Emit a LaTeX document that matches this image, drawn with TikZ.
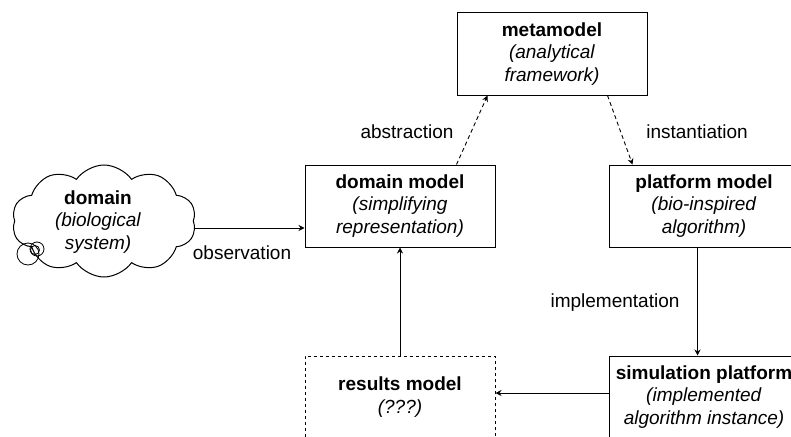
\documentclass[tikz,border=0pt]{standalone}
\usepackage{fontspec}
\setmainfont{Liberation Sans}
\usetikzlibrary{shapes.symbols,arrows.meta,calc}
\begin{document}
\begin{tikzpicture}[x=1pt,y=-1pt,
  every node/.style={font=\fontsize{19}{22.5}\selectfont},
  box/.style={draw,line width=1pt,minimum width=190pt,minimum height=82pt,inner sep=0pt,align=center},
  dbox/.style={box,dash pattern=on 3pt off 3pt},
  arr/.style={line width=0.9pt,-{Stealth[length=6pt,width=6pt,inset=2pt]}},
  darr/.style={arr,dash pattern=on 4pt off 3pt},
  lbl/.style={inner sep=0pt,anchor=center}]
\useasboundingbox (0,0) rectangle (791,436);
\begin{scope}
\clip (0,0) rectangle (791,436);
\node[box] (meta) at (552,54) {\textbf{metamodel}\\\textit{(analytical}\\\textit{framework)}};
\node[box] (dm) at (400,206) {\textbf{domain model}\\\textit{(simplifying}\\\textit{representation)}};
\node[box] (pm) at (704,206) {\textbf{platform model}\\\textit{(bio-inspired}\\\textit{algorithm)}};
\node[box] (sp) at (704,397) {\textbf{simulation platform}\\\textit{(implemented}\\\textit{algorithm instance)}};
\node[dbox] (rm) at (400,397) {\textbf{results model}\\\textit{(???)}};
\node[draw,line width=1pt,cloud,cloud puffs=10,cloud puff arc=110,aspect=1.65,
      minimum width=184pt,minimum height=112pt,inner sep=0pt] (cloud) at (104,221) {};
\node[align=center,inner sep=0pt] (cloudtxt) at (98,222)
      {\textbf{domain}\\\textit{(biological}\\\textit{system)}};
\node[draw,line width=0.8pt,circle,minimum size=22pt,inner sep=0pt] (c1) at (28,254) {};
\node[draw,line width=0.8pt,circle,minimum size=14pt,inner sep=0pt] (c2) at (37,249) {};
\node[draw,line width=0.8pt,circle,minimum size=9pt,inner sep=0pt] (c3) at (35,250) {};
\coordinate (obsEnd) at ($(dm.west)+(0,22)$);
\draw[arr] (cloud.east |- obsEnd) -- (obsEnd);
\node[lbl] (obs) at (242,253) {observation};
\draw[darr] ($(dm.north west)+(152,0)$) -- ($(meta.south west)+(31,0)$);
\node[lbl] (abs) at (407,132) {abstraction};
\draw[darr] ($(meta.south west)+(151,0)$) -- ($(pm.north west)+(24,0)$);
\node[lbl] (inst) at (697,132) {instantiation};
\draw[arr] ($(pm.south west)+(89,0)$) -- ($(sp.north west)+(89,0)$);
\node[lbl] (impl) at (615,303) {implementation};
\coordinate (resEnd) at ($(rm.east)+(0,-4)$);
\draw[arr] (sp.west |- resEnd) -- (resEnd);
\draw[arr] (rm.north) -- (dm.south);
\end{scope}
\end{tikzpicture}
\end{document}
